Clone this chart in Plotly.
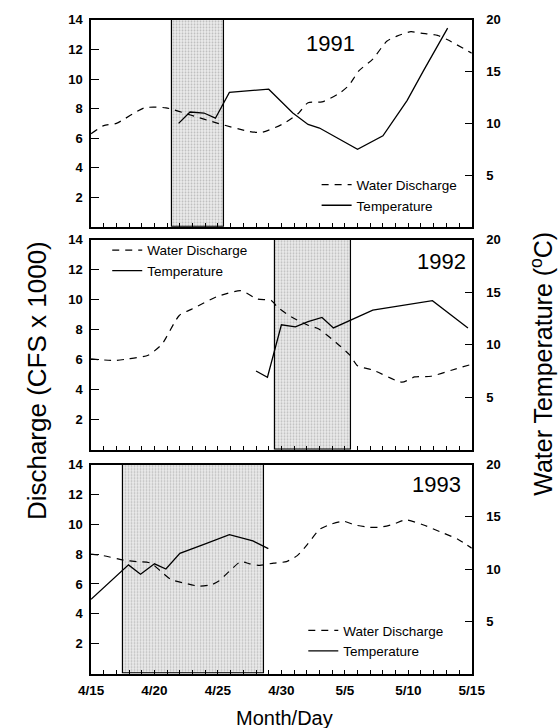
import plotly.graph_objects as go
from plotly.subplots import make_subplots

# ---------------- data ----------------
years = ["1991", "1992", "1993"]

# x = days since 4/15
q91_day = [0, 1, 2, 4.2, 5.9, 7.9, 10, 12.5, 13.5, 15.2, 16.3, 17.1, 18.2, 19.5, 20.3, 21.1, 22.2, 23.3, 24.1, 25.2, 26, 27.3, 28.1, 30]
q91_val = [6.3, 6.85, 7.0, 8.05, 8.05, 7.55, 7.0, 6.45, 6.4, 7.0, 7.65, 8.4, 8.45, 9.0, 9.55, 10.55, 11.35, 12.55, 12.9, 13.2, 13.1, 12.95, 12.65, 11.75]
t91_day = [6.9, 7.8, 8.9, 9.8, 10.9, 14.0, 15.9, 17.1, 18.0, 21.0, 23.0, 24.9, 26.2, 28.1]
t91_val = [10.0, 11.1, 11.0, 10.5, 13.0, 13.3, 11.0, 9.9, 9.55, 7.5, 8.8, 12.2, 15.1, 19.2]

q92_day = [0, 1.85, 2.9, 4.5, 5.6, 6.95, 8.0, 9.9, 11.8, 13.1, 14.2, 14.7, 15.8, 17.1, 17.95, 19.3, 20.4, 21.0, 22.25, 24.5, 25.5, 26.8, 28.4, 30]
q92_val = [6.05, 5.95, 6.05, 6.3, 7.05, 8.95, 9.4, 10.2, 10.6, 10.05, 9.95, 9.5, 8.85, 8.3, 8.05, 7.15, 6.3, 5.6, 5.3, 4.5, 4.85, 4.9, 5.3, 5.7]
t92_day = [13.0, 13.9, 15.0, 16.1, 17.1, 18.2, 19.1, 22.2, 26.9, 29.7]
t92_val = [7.5, 6.9, 11.9, 11.7, 12.2, 12.6, 11.6, 13.3, 14.2, 11.6]

q93_day = [0, 0.94, 2.55, 3.6, 4.7, 5.5, 6.3, 7.4, 8.5, 9.5, 10.07, 10.9, 11.8, 12.5, 13.3, 14.4, 15.4, 16.25, 17.05, 18.0, 18.9, 19.9, 20.8, 21.9, 22.8, 23.8, 24.8, 26.2, 27.5, 28.9, 30]
q93_val = [8.0, 7.9, 7.6, 7.5, 7.4, 6.85, 6.3, 6.05, 5.85, 5.95, 6.2, 6.85, 7.5, 7.35, 7.25, 7.4, 7.5, 7.9, 8.65, 9.65, 10.0, 10.2, 9.95, 9.8, 9.8, 10.0, 10.3, 9.95, 9.5, 9.0, 8.4]
t93_day = [0, 2.95, 3.9, 5.0, 5.9, 7.0, 9.0, 10.9, 12.75, 13.97]
t93_val = [7.1, 10.4, 9.5, 10.5, 10.0, 11.5, 12.4, 13.3, 12.7, 11.95]

shade_start = [6.4, 14.5, 2.5]
shade_end = [10.5, 20.5, 13.6]

x_tick_vals = [0, 5, 10, 15, 20, 25, 30]
x_tick_text = ["4/15", "4/20", "4/25", "4/30", "5/5", "5/10", "5/15"]
left_tick_vals = [2, 4, 6, 8, 10, 12, 14]
right_tick_vals = [5, 10, 15, 20]

q_days = [q91_day, q92_day, q93_day]
q_vals = [q91_val, q92_val, q93_val]
t_days = [t91_day, t92_day, t93_day]
t_vals = [t91_val, t92_val, t93_val]

# ---------------- figure ----------------
W, H = 560, 728
FONT = "Liberation Sans, Arial, sans-serif"

fig = make_subplots(rows=3, cols=1, specs=[[{"secondary_y": True}]] * 3)

panel_px = [(13, 222), (235, 447), (462, 673)]
x_px = (82, 482)

legend_names = ["legend", "legend2", "legend3"]

for i in range(3):
    r = i + 1
    s, e = shade_start[i], shade_end[i]
    fig.add_trace(go.Bar(
        x=[(s + e) / 2], y=[14], base=0, width=[e - s],
        marker=dict(color="#e8e8e8",
                    line=dict(color="black", width=1.2),
                    pattern=dict(shape=".", fgcolor="#8c8c8c", bgcolor="#ebebeb",
                                 size=3, solidity=0.3)),
        showlegend=False, hoverinfo="skip"), row=r, col=1, secondary_y=False)
    fig.add_trace(go.Scatter(
        x=q_days[i], y=q_vals[i], mode="lines", name="Water Discharge",
        line=dict(color="black", width=1.2, dash="7px,6px", shape="spline", smoothing=0.6),
        legend=legend_names[i]), row=r, col=1, secondary_y=False)
    fig.add_trace(go.Scatter(
        x=t_days[i], y=t_vals[i], mode="lines", name="Temperature",
        line=dict(color="black", width=1.3),
        legend=legend_names[i]), row=r, col=1, secondary_y=True)

    top, bot = panel_px[i]
    ydom = [1 - bot / H, 1 - top / H]
    fig.update_xaxes(
        row=r, col=1,
        domain=[x_px[0] / W, x_px[1] / W], range=[0, 30],
        showline=True, linecolor="black", linewidth=1.6, mirror=True,
        showgrid=False, zeroline=False,
        tickmode="array", tickvals=x_tick_vals, ticktext=x_tick_text,
        ticks="inside", ticklen=4, tickwidth=1, tickcolor="black",
        minor=dict(dtick=1, ticks="inside", ticklen=4, tickwidth=1, tickcolor="black"),
        showticklabels=(r == 3),
        tickfont=dict(family=FONT, size=13.5, color="black", weight="bold"),
        ticklabelstandoff=3,
    )
    fig.update_yaxes(
        row=r, col=1, secondary_y=False,
        domain=ydom, range=[0, 14],
        showline=True, linecolor="black", linewidth=1.6,
        showgrid=False, zeroline=False,
        tickmode="array", tickvals=left_tick_vals,
        ticks="inside", ticklen=8, tickwidth=1, tickcolor="black",
        tickfont=dict(family=FONT, size=13, color="black", weight="bold"),
        ticklabelstandoff=4,
    )
    fig.update_yaxes(
        row=r, col=1, secondary_y=True,
        domain=ydom, range=[0, 20],
        showline=True, linecolor="black", linewidth=1.6,
        showgrid=False, zeroline=False,
        tickmode="array", tickvals=right_tick_vals,
        ticks="inside", ticklen=7, tickwidth=1, tickcolor="black",
        tickfont=dict(family=FONT, size=13, color="black", weight="bold"),
        ticklabelstandoff=10,
    )

leg_common = dict(bgcolor="rgba(0,0,0,0)", borderwidth=0, itemwidth=30,
                  font=dict(family=FONT, size=13.5, color="black"),
                  xanchor="left", yanchor="top", tracegroupgap=0)
fig.update_layout(
    legend=dict(x=319 / W, y=1 - 164 / H, **leg_common),
    legend2=dict(x=99 / W, y=1 - 230 / H, **leg_common),
    legend3=dict(x=305 / W, y=1 - 614 / H, **leg_common),
)

year_pos = [(334, 37), (450, 257), (445, 482)]
for yr, (px, py) in zip(years, year_pos):
    fig.add_annotation(text=yr, x=px / W, y=1 - py / H, xref="paper", yref="paper",
                       xanchor="center", yanchor="middle",
                       showarrow=False, font=dict(family=FONT, size=22, color="black"))

fig.add_annotation(text="Discharge (CFS x 1000)", x=26 / W, y=1 - 377 / H,
                   xref="paper", yref="paper", showarrow=False, textangle=-90,
                   xanchor="center", yanchor="middle",
                   font=dict(family=FONT, size=26, color="black"))
fig.add_annotation(text="Water Temperature (<sup>o</sup>C)", x=555 / W, y=1 - 360 / H,
                   xref="paper", yref="paper", showarrow=False, textangle=-90,
                   xanchor="center", yanchor="middle",
                   font=dict(family=FONT, size=25, color="black"))
fig.add_annotation(text="Month/Day", x=285 / W, y=1 - 718 / H,
                   xref="paper", yref="paper", showarrow=False,
                   xanchor="center", yanchor="middle",
                   font=dict(family=FONT, size=20, color="black"))

fig.update_layout(
    width=W, height=H,
    margin=dict(l=0, r=0, t=0, b=0),
    paper_bgcolor="white", plot_bgcolor="white",
    bargap=0, barmode="overlay",
    font=dict(family=FONT, color="black"),
)

fig.write_html("out.html")
